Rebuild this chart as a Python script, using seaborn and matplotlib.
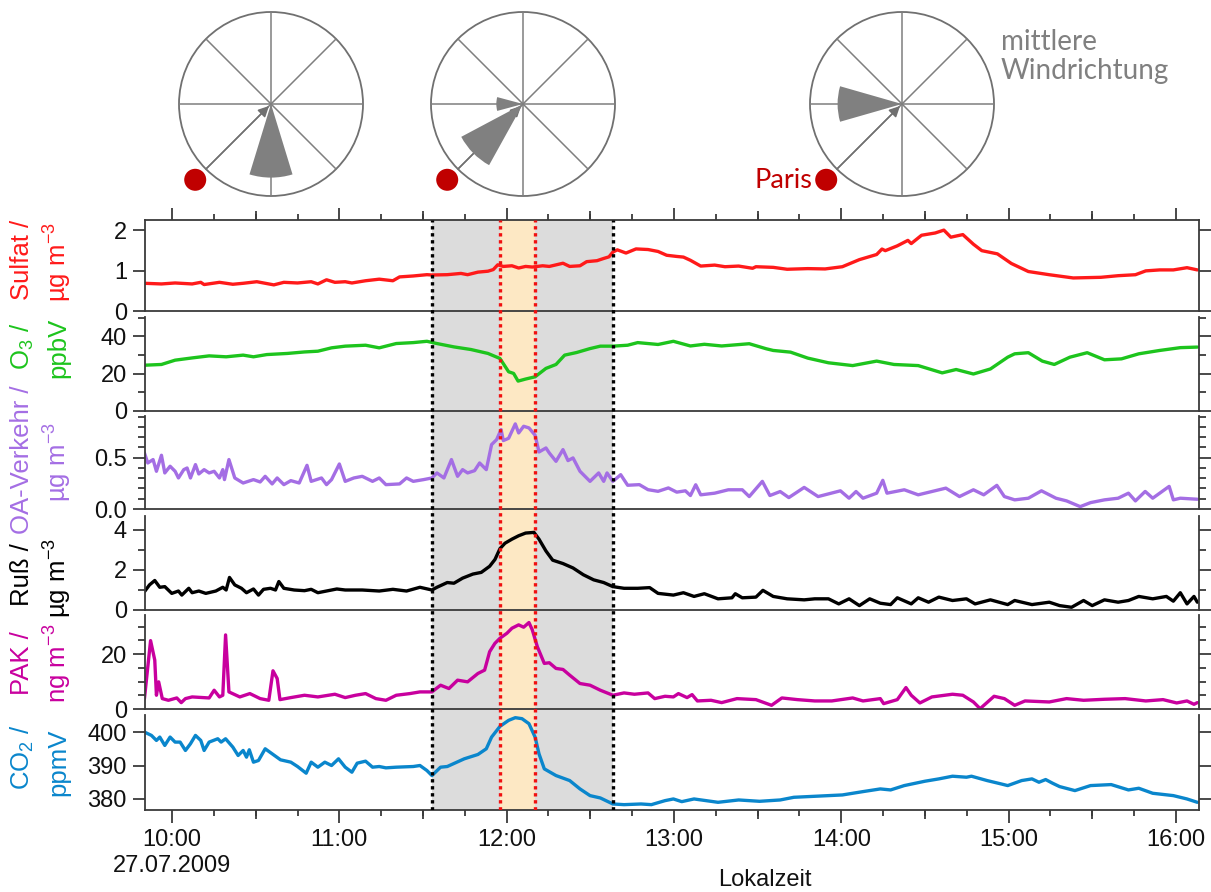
import numpy as np
import matplotlib
matplotlib.use("Agg")
import matplotlib.pyplot as plt
import seaborn as sns
from matplotlib.patches import Circle, Wedge
from matplotlib.ticker import FixedLocator, NullLocator

# ---------------- data (time in minutes after midnight, 27.07.2009) ----------------
sulfat_t = [590.1, 596.2, 601.1, 607.2, 610.3, 611.5, 617.0, 621.8, 625.5, 630.4, 636.5, 640.1, 645.0, 649.9,
            652.3, 655.4, 658.4, 662.1, 664.5, 669.4, 674.3, 679.2, 681.6, 686.5, 691.4, 693.2, 698.7, 703.6,
            706.0, 709.7, 713.3, 715.2, 716.8, 718.8, 721.9, 724.3, 726.8, 729.2, 732.9, 735.3, 740.2, 742.6,
            746.3, 748.7, 752.4, 754.8, 756.7, 758.1, 759.7, 762.8, 766.4, 770.7, 774.3, 777.4,
            781.0, 783.4, 785.9, 789.6, 794.6, 798.3, 803.2, 808.2, 809.4, 815.6, 820.6, 828.0, 834.2, 840.4,
            846.5, 852.7, 854.6, 855.8, 860.1, 863.9, 865.1, 868.8, 873.7, 876.8, 879.3, 883.6, 887.4, 890.4,
            896.0, 901.0, 907.1, 914.6, 923.2, 933.1, 939.3, 945.5, 949.2, 954.2, 959.1, 964.0, 967.7]
sulfat_v = [0.685, 0.669, 0.693, 0.669, 0.709, 0.654, 0.709, 0.661, 0.685, 0.724, 0.646, 0.709, 0.693, 0.724,
            0.669, 0.772, 0.709, 0.724, 0.693, 0.748, 0.787, 0.748, 0.843, 0.866, 0.898, 0.890, 0.898, 0.929,
            0.898, 0.961, 0.984, 1.024, 1.142, 1.102, 1.118, 1.063, 1.102, 1.087, 1.118, 1.102, 1.181, 1.102,
            1.118, 1.220, 1.244, 1.299, 1.339, 1.457, 1.512, 1.433, 1.535, 1.520, 1.472, 1.378,
            1.349, 1.333, 1.254, 1.111, 1.135, 1.095, 1.111, 1.056, 1.095, 1.079, 1.032, 1.048, 1.040, 1.095,
            1.270, 1.397, 1.532, 1.492, 1.611, 1.746, 1.667, 1.873, 1.929, 2.000, 1.825, 1.889, 1.651, 1.492,
            1.413, 1.175, 0.976, 0.897, 0.817, 0.833, 0.873, 0.897, 0.992, 1.016, 1.016, 1.071, 1.016]

o3_t = [590.1, 596.2, 601.1, 607.2, 613.3, 619.4, 625.5, 629.2, 634.0, 641.4, 647.5, 652.3, 657.2, 662.1,
        669.4, 674.3, 680.4, 686.5, 691.4, 695.0, 701.1, 707.2, 713.3, 717.6, 720.7, 722.5, 724.1, 726.8,
        730.2, 734.1, 737.7, 740.8, 745.1, 749.9, 753.6, 758.1, 763.4, 767.0, 774.3, 779.8,
        785.9, 790.9, 797.1, 807.0, 813.1, 815.6, 821.8, 828.0, 835.4, 844.1, 852.7, 858.9, 867.6, 876.2,
        881.2, 887.4, 893.5, 899.7, 902.2, 907.1, 912.1, 916.4, 922.0, 928.2, 934.4, 940.5, 946.7, 954.2,
        961.6, 967.7]
o3_v = [24.5, 24.9, 27.2, 28.4, 29.5, 29.0, 29.9, 29.0, 30.2, 30.8, 31.6, 32.0, 33.8, 34.7,
        35.2, 33.8, 36.1, 36.6, 37.3, 36.1, 34.3, 32.9, 30.8, 28.1, 21.0, 20.1, 16.0, 17.1,
        18.3, 22.8, 24.9, 29.9, 31.3, 33.4, 34.7, 34.7, 35.2, 36.6, 35.6, 37.3,
        34.8, 35.7, 34.8, 36.0, 33.3, 32.4, 31.5, 28.3, 25.8, 24.3, 26.7, 24.9, 24.3, 20.4,
        22.2, 19.8, 22.5, 28.8, 30.6, 31.2, 26.7, 24.9, 28.8, 31.2, 27.4, 27.9, 30.6, 32.4,
        33.9, 34.2]

oa_t = [590.1, 591.3, 593.2, 594.4, 596.2, 597.4, 599.3, 601.1, 602.3, 604.2, 605.4, 606.6, 608.4, 609.6,
        611.5, 613.3, 615.1, 617.0, 618.2, 618.8, 620.4, 622.5, 625.5, 629.2, 631.6, 633.4, 635.9, 637.7,
        640.1, 642.6, 645.6, 648.4, 649.9, 653.6, 655.4, 657.2, 660.0, 662.1, 665.2, 668.2, 671.9, 674.3,
        676.7, 681.6, 684.1, 686.5, 690.2, 693.2, 695.0, 697.5, 700.2, 702.4, 704.2, 706.0, 708.5, 710.3,
        712.7, 714.6, 716.4, 718.0, 718.8, 720.7, 723.1, 724.3, 726.1, 728.0, 730.2, 731.6, 734.1, 735.3,
        737.7, 740.2, 742.0, 743.8, 746.3, 749.9, 753.0, 754.8, 756.0, 758.1, 760.9, 763.4, 767.6, 770.7,
        774.3, 778.0,
        781.0, 784.1, 785.9, 787.8, 789.6, 794.6, 799.5, 804.5, 807.0, 811.7, 814.4, 818.1, 821.2, 826.7,
        831.7, 839.7, 842.8, 845.3, 847.8, 852.7, 854.9, 856.4, 862.6, 867.6, 872.5, 877.5, 882.4, 887.4,
        891.1, 895.8, 898.5, 902.2, 907.1, 911.8, 917.0, 920.8, 925.7, 929.4, 934.4, 939.3, 943.0, 945.5,
        949.0, 951.7, 954.2, 957.6, 959.1, 961.6, 967.7]
oa_v = [0.545, 0.448, 0.481, 0.367, 0.523, 0.351, 0.416, 0.367, 0.302, 0.383, 0.399, 0.302, 0.432, 0.341,
        0.383, 0.351, 0.367, 0.302, 0.383, 0.286, 0.481, 0.302, 0.253, 0.286, 0.263, 0.318, 0.244, 0.302,
        0.237, 0.276, 0.253, 0.425, 0.269, 0.302, 0.237, 0.286, 0.438, 0.269, 0.302, 0.318, 0.269, 0.302,
        0.237, 0.244, 0.302, 0.269, 0.286, 0.302, 0.351, 0.302, 0.481, 0.318, 0.383, 0.351, 0.373, 0.448,
        0.383, 0.627, 0.675, 0.773, 0.666, 0.688, 0.828, 0.740, 0.805, 0.789, 0.718, 0.555, 0.594, 0.545,
        0.464, 0.578, 0.471, 0.497, 0.367, 0.269, 0.351, 0.269, 0.351, 0.269, 0.334, 0.231, 0.237, 0.188,
        0.172, 0.205,
        0.164, 0.177, 0.131, 0.236, 0.138, 0.154, 0.187, 0.187, 0.121, 0.269, 0.131, 0.170, 0.111, 0.210,
        0.121, 0.177, 0.105, 0.170, 0.105, 0.154, 0.279, 0.154, 0.187, 0.138, 0.170, 0.203, 0.121, 0.187,
        0.138, 0.230, 0.121, 0.089, 0.105, 0.177, 0.105, 0.079, 0.023, 0.062, 0.089, 0.105, 0.154, 0.079,
        0.171, 0.105, 0.154, 0.220, 0.089, 0.105, 0.095]

russ_t = [590.1, 591.9, 593.8, 595.6, 597.4, 599.9, 602.3, 603.5, 606.0, 607.2, 609.6, 612.1, 615.7, 618.2,
          619.4, 620.6, 622.5, 624.9, 626.7, 629.2, 631.0, 632.8, 635.3, 637.1, 638.3, 640.1, 643.8, 647.5,
          649.9, 652.3, 656.0, 659.1, 662.1, 668.2, 674.3, 679.2, 684.1, 688.9, 693.2, 695.0, 698.7, 701.1,
          704.2, 707.9, 710.9, 713.9, 715.8, 717.6, 719.4, 721.9, 724.3, 726.8, 729.8, 731.6, 734.1, 736.5,
          740.2, 743.8, 747.5, 751.2, 754.8, 758.1, 762.1, 767.0, 771.3, 774.3, 779.8,
          783.4, 787.2, 790.9, 795.8, 800.8, 802.0, 804.5, 809.4, 811.9, 815.6, 820.6, 826.7, 830.5, 835.4,
          839.1, 842.8, 846.5, 850.2, 854.0, 857.7, 860.1, 865.1, 867.6, 871.3, 875.0, 879.9, 884.9, 888.0,
          893.5, 899.7, 902.2, 908.4, 914.6, 918.3, 922.6, 926.9, 930.0, 934.4, 939.3, 943.0, 946.7, 951.7,
          956.6, 959.1, 961.6, 964.0, 966.5, 967.7]
russ_v = [0.915, 1.254, 1.475, 1.136, 1.169, 0.831, 0.949, 0.746, 1.085, 0.864, 0.949, 0.831, 0.949, 1.136,
          1.000, 1.627, 1.254, 1.085, 0.864, 1.051, 0.746, 1.034, 1.085, 1.000, 1.424, 1.085, 1.000, 0.966,
          1.034, 0.864, 0.966, 1.051, 1.000, 1.000, 0.949, 1.034, 0.949, 1.136, 1.000, 1.136, 1.373, 1.339,
          1.593, 1.797, 1.881, 2.186, 2.525, 3.068, 3.339, 3.542, 3.712, 3.847, 3.881, 3.542, 2.949, 2.492,
          2.322, 2.102, 1.763, 1.508, 1.373, 1.169, 1.085, 1.085, 1.119, 0.831, 0.746,
          0.864, 0.678, 0.814, 0.559, 0.610, 0.814, 0.610, 0.644, 0.983, 0.678, 0.559, 0.508, 0.559, 0.559,
          0.305, 0.559, 0.220, 0.559, 0.339, 0.271, 0.610, 0.305, 0.610, 0.390, 0.644, 0.475, 0.559, 0.305,
          0.508, 0.271, 0.475, 0.271, 0.390, 0.220, 0.136, 0.475, 0.220, 0.508, 0.390, 0.475, 0.678, 0.559,
          0.678, 0.441, 0.864, 0.305, 0.678, 0.390]

pak_t = [590.1, 592.3, 593.8, 594.4, 595.2, 596.5, 598.7, 601.7, 603.3, 604.8, 607.2, 613.3, 615.1, 617.0,
         618.2, 619.2, 620.4, 624.3, 627.9, 631.6, 634.7, 636.2, 637.7, 638.7, 642.6, 647.5, 652.3, 658.4,
         662.1, 665.8, 669.4, 673.1, 676.7, 680.4, 685.3, 688.9, 693.2, 696.3, 699.3, 702.4, 706.0, 709.7,
         712.1, 713.9, 715.8, 717.6, 720.1, 721.9, 724.3, 726.1, 728.0, 729.2, 731.0, 733.5, 735.3, 737.7,
         740.2, 742.6, 746.3, 749.9, 753.6, 758.1, 762.1, 765.8, 770.7, 773.1, 776.8, 779.8,
         781.6, 784.7, 786.5, 788.4, 793.3, 797.1, 802.6, 809.4, 815.0, 818.7, 824.3, 830.5, 836.6, 844.1,
         847.8, 854.0, 855.2, 860.1, 863.2, 865.1, 868.2, 872.5, 879.9, 883.6, 887.4, 889.8, 894.8, 898.5,
         902.2, 905.9, 914.6, 920.8, 926.9, 934.4, 941.8, 949.2, 955.4, 960.3, 964.0, 966.5, 967.7]
pak_v = [3.78, 24.88, 17.80, 5.00, 9.88, 3.78, 3.17, 4.02, 2.32, 3.78, 4.39, 4.02, 6.83, 4.39,
         5.00, 26.95, 6.22, 4.39, 5.61, 3.78, 3.17, 13.90, 11.10, 3.41, 4.15, 5.00, 4.39, 5.37,
         4.15, 5.00, 5.61, 3.78, 3.17, 5.00, 5.61, 6.22, 6.22, 8.66, 7.44, 10.49, 9.88, 12.93,
         14.15, 20.85, 23.90, 25.73, 27.56, 29.39, 30.61, 29.76, 31.46, 28.78, 22.68, 16.59, 16.83, 14.76,
         14.39, 12.32, 9.27, 8.66, 6.83, 5.00, 5.85, 5.37, 5.85, 3.78, 4.63, 4.39,
         5.61, 4.15, 5.24, 2.93, 3.17, 2.32, 3.78, 3.41, 1.34, 4.02, 3.41, 2.93, 2.93, 4.02,
         2.93, 3.78, 1.95, 3.41, 7.80, 5.00, 2.20, 4.39, 5.37, 5.00, 2.56, 0.12, 4.63, 3.78,
         1.34, 2.93, 2.56, 3.78, 3.17, 3.54, 3.78, 2.93, 3.41, 2.20, 2.93, 1.71, 2.32]

co2_t = [590.1, 592.6, 594.4, 595.6, 597.4, 599.3, 601.1, 602.9, 604.8, 606.6, 608.4, 610.3, 611.5, 613.3,
         616.4, 617.6, 619.2, 621.8, 623.7, 625.5, 626.7, 627.7, 629.2, 631.0, 633.4, 635.9, 638.9, 642.6,
         645.0, 648.1, 649.9, 652.3, 654.8, 657.2, 659.7, 662.1, 664.5, 666.4, 669.4, 671.9, 674.3, 676.7,
         680.4, 686.5, 688.9, 691.4, 693.2, 696.3, 698.7, 704.8, 709.7, 712.7, 714.6, 717.6, 720.7, 723.1,
         725.5, 728.0, 730.2, 731.6, 733.5, 737.7, 742.6, 746.3, 749.9, 753.6, 758.1, 762.1, 768.2, 771.9,
         776.8, 779.8,
         782.8, 787.2, 795.8, 803.2, 810.7, 818.1, 823.0, 830.5, 840.4, 847.8, 854.0, 857.7, 862.6, 870.0,
         875.0, 879.9, 884.9, 886.7, 892.3, 897.3, 899.7, 904.7, 908.4, 910.9, 913.3, 915.8, 918.3, 923.8,
         929.4, 936.8, 943.0, 946.7, 951.7, 959.1, 964.0, 967.7]
co2_v = [400.0, 399.0, 397.5, 398.5, 396.0, 398.5, 397.0, 397.0, 394.5, 396.5, 399.0, 397.5, 394.5, 397.0,
         398.0, 397.0, 398.0, 395.5, 393.0, 394.5, 392.5, 394.7, 391.0, 391.5, 395.0, 393.5, 391.7, 391.0,
         389.7, 387.7, 391.0, 389.5, 391.0, 390.0, 392.0, 389.5, 388.0, 390.7, 391.3, 389.5, 389.7, 389.3,
         389.5, 389.7, 390.0, 388.5, 387.0, 389.5, 389.7, 392.0, 393.3, 395.0, 398.5, 401.7, 403.5, 404.3,
         404.0, 402.5, 398.5, 393.5, 389.0, 387.0, 385.5, 383.0, 381.0, 380.3, 378.5, 378.3, 378.5, 378.3,
         379.5, 380.0,
         379.2, 380.0, 379.0, 379.7, 379.3, 379.7, 380.5, 380.8, 381.2, 382.2, 383.0, 382.7, 384.0, 385.3,
         386.0, 386.8, 386.5, 386.8, 385.5, 384.5, 384.0, 385.5, 386.0, 385.0, 385.8, 384.7, 383.7, 382.5,
         384.0, 384.3, 382.7, 383.2, 381.7, 381.0, 380.0, 379.0]

# event windows (minutes): plume passage (grey) and peak (orange)
plume_window = (693.1, 758.2)
peak_window = (717.6, 730.2)

# hour tick labels
hour_ticks = [10, 11, 12, 13, 14, 15, 16]
hour_labels = ["10:00\n27.07.2009", "11:00", "12:00", "13:00", "14:00", "15:00", "16:00"]

# wind roses: sectors (start angle, end angle in deg, counter-clockwise from east; relative length)
rose_sectors = [
    [(253, 287, 0.80)],
    [(208, 241, 0.76), (165, 195, 0.29)],
    [(164, 196, 0.70)],
]
paris_direction = 225  # deg, direction of Paris seen from the site

# ---------------- style ----------------
sns.set_theme(style="ticks")
plt.rcParams["font.family"] = ["Liberation Sans", "DejaVu Sans"]
plt.rcParams["mathtext.fontset"] = "custom"
plt.rcParams["mathtext.rm"] = "Liberation Sans"
plt.rcParams["mathtext.it"] = "Liberation Sans:italic"
plt.rcParams["mathtext.bf"] = "Liberation Sans:bold"

W, H = 1211, 892
fig = plt.figure(figsize=(W / 100, H / 100), dpi=100)


def rect(left, top, right, bottom):
    return [left / W, 1 - bottom / H, (right - left) / W, (bottom - top) / H]


LEFT, RIGHT = 145, 1199
panel_px = [(220, 311), (317, 411), (416, 509), (516, 610), (615, 709), (715, 810)]
# vertical centres (px) of the two label lines of each panel
label_centres = [(260, 262), (346, 348), (460, 462), (575, 578), (663, 663), (757, 762)]
XLIM = (590.3 / 60, 968.3 / 60)
SPINE = "#3a3a3a"
TICKSIZE = 17
LABELSIZE = 18.5

panels = [
    dict(l1="Sulfat /", l2=r"µg m$^{-3}$", c="#FF1A1A", t=sulfat_t, v=sulfat_v, ylim=(0, 2.25),
         major=[0, 1, 2], minor=[], fmt="{:.0f}"),
    dict(l1=r"O$_3$ /", l2="ppbV", c="#1DC41D", t=o3_t, v=o3_v, ylim=(0, 50.3),
         major=[0, 20, 40], minor=[10, 30, 50], fmt="{:.0f}"),
    dict(l1="OA-Verkehr /", l2=r"µg m$^{-3}$", c="#A46EE4", t=oa_t, v=oa_v, ylim=(0, 0.905),
         major=[0.0, 0.5], minor=[0.1, 0.2, 0.3, 0.4, 0.6, 0.7, 0.8, 0.9], fmt="{:.1f}"),
    dict(l1="Ruß /", l2=r"µg m$^{-3}$", c="#000000", t=russ_t, v=russ_v, ylim=(0, 4.7),
         major=[0, 2, 4], minor=[1, 3], fmt="{:.0f}"),
    dict(l1="PAK /", l2=r"ng m$^{-3}$", c="#C8009E", t=pak_t, v=pak_v, ylim=(0, 34.2),
         major=[0, 20], minor=[5, 10, 15, 25, 30], fmt="{:.0f}"),
    dict(l1=r"CO$_2$ /", l2="ppmV", c="#0A86CC", t=co2_t, v=co2_v, ylim=(376.7, 405.1),
         major=[380, 390, 400], minor=[], fmt="{:.0f}"),
]

# background shading spanning all panels
bg = fig.add_axes(rect(LEFT, panel_px[0][0], RIGHT, panel_px[-1][1]), zorder=0)
bg.set_xlim(*XLIM)
bg.axvspan(plume_window[0] / 60, plume_window[1] / 60, color="#DCDCDC", lw=0)
bg.axvspan(peak_window[0] / 60, peak_window[1] / 60, color="#FDE8C4", lw=0)
bg.axis("off")

axes = []
for i, (p, (top, bot), (yc1, yc2)) in enumerate(zip(panels, panel_px, label_centres)):
    ax = fig.add_axes(rect(LEFT, top, RIGHT, bot), zorder=2)
    ax.patch.set_alpha(0)
    sns.lineplot(x=np.asarray(p["t"]) / 60, y=p["v"], ax=ax, color=p["c"], lw=2.4,
                 estimator=None, sort=False, legend=False)
    ax.set_xlim(*XLIM)
    ax.set_ylim(*p["ylim"])
    ax.yaxis.set_major_locator(FixedLocator(p["major"]))
    ax.set_yticklabels([p["fmt"].format(m) for m in p["major"]])
    if p["minor"]:
        ax.yaxis.set_minor_locator(FixedLocator(p["minor"]))
    else:
        ax.yaxis.set_minor_locator(NullLocator())
    ax.tick_params(axis="y", which="both", left=True, right=True, direction="out",
                   colors=SPINE, labelcolor="#111111", labelsize=TICKSIZE, width=1.3, pad=4)
    ax.tick_params(axis="y", which="major", length=9)
    ax.tick_params(axis="y", which="minor", length=5)
    for s in ["left", "right", "bottom", "top"]:
        ax.spines[s].set_color(SPINE)
        ax.spines[s].set_linewidth(1.3)
    ax.spines["top"].set_visible(i == 0)
    ax.set_xlabel("")
    ax.set_ylabel("")
    ax.grid(False)
    # x ticks
    ax.xaxis.set_major_locator(FixedLocator(hour_ticks))
    ax.xaxis.set_minor_locator(FixedLocator(list(np.arange(9.75, 16.26, 0.25))))
    if i == 0:
        ax.tick_params(axis="x", which="both", top=True, bottom=False, labeltop=False,
                       labelbottom=False, direction="out", colors=SPINE, width=1.3)
    elif i == len(panels) - 1:
        ax.set_xticklabels(hour_labels)
        ax.tick_params(axis="x", which="both", top=False, bottom=True, labelbottom=True,
                       direction="out", colors=SPINE, labelcolor="#111111", labelsize=TICKSIZE,
                       width=1.3, pad=5)
    else:
        ax.tick_params(axis="x", which="both", top=False, bottom=False, labelbottom=False)
    ax.tick_params(axis="x", which="major", length=9)
    ax.tick_params(axis="x", which="minor", length=4.5)
    # two-line rotated axis label
    fig.text(22 / W, 1 - yc1 / H, p["l1"], rotation=90, ha="center", va="center",
             color=p["c"], fontsize=LABELSIZE)
    fig.text(58 / W, 1 - yc2 / H, p["l2"], rotation=90, ha="center", va="center",
             color=p["c"], fontsize=LABELSIZE)
    axes.append(ax)

# half-hour ticks (medium length)
half_hours = [9.5 + k for k in range(1, 7)]
for ax, loc in [(axes[0], "top"), (axes[-1], "bottom")]:
    sec = ax.secondary_xaxis(loc)
    sec.xaxis.set_major_locator(FixedLocator(half_hours))
    sec.xaxis.set_minor_locator(NullLocator())
    sec.tick_params(axis="x", length=6.8, width=1.3, colors=SPINE, labelbottom=False, labeltop=False)
    sec.spines[loc].set_visible(False)

# dotted event lines on top of everything
fg = fig.add_axes(rect(LEFT, panel_px[0][0], RIGHT, panel_px[-1][1]), zorder=3)
fg.patch.set_alpha(0)
fg.set_xlim(*XLIM)
fg.set_ylim(0, 1)
for xv in plume_window:
    fg.axvline(xv / 60, color="#000000", lw=2.4, ls=(0, (1, 1.1)))
for xv in peak_window:
    fg.axvline(xv / 60, color="#F01010", lw=2.4, ls=(0, (1, 1.1)))
fg.axis("off")

fig.text(765 / W, 1 - 880 / H, "Lokalzeit", ha="center", va="center", fontsize=TICKSIZE, color="#111111")

# ---------------- wind roses ----------------
rose = fig.add_axes([0, 0, 1, 1], zorder=5)
rose.set_xlim(0, W)
rose.set_ylim(0, H)
rose.axis("off")
rose.patch.set_alpha(0)
R = 92
centers = [(271, H - 104), (523, H - 104), (902, H - 104)]
for (cx, cy), sectors in zip(centers, rose_sectors):
    rose.add_patch(Circle((cx, cy), R, facecolor="white", edgecolor="#707070", lw=1.3, zorder=1))
    for ang in (0, 45, 90, 135):
        u = np.array([np.cos(np.radians(ang)), np.sin(np.radians(ang))])
        rose.plot([cx - R * u[0], cx + R * u[0]], [cy - R * u[1], cy + R * u[1]],
                  color="#7f7f7f", lw=1.1, zorder=2)
    pd_rad = np.radians(paris_direction)
    rose.annotate("", xy=(cx, cy), xytext=(cx + R * np.cos(pd_rad), cy + R * np.sin(pd_rad)),
                  arrowprops=dict(arrowstyle="-|>", color="#707070", lw=1.1, mutation_scale=16,
                                  shrinkA=0, shrinkB=2), zorder=3)
    for a1, a2, rl in sectors:
        rose.add_patch(Wedge((cx, cy), rl * R, a1, a2, facecolor="#808080", edgecolor="none", zorder=4))
    rose.add_patch(Circle((cx + 1.165 * R * np.cos(pd_rad), cy + 1.165 * R * np.sin(pd_rad)), 11,
                          facecolor="#C00000", edgecolor="none", zorder=5))

rose.text(812, H - 180, "Paris", ha="right", va="center", color="#C00000", fontsize=19.5,
          family=["Lato", "DejaVu Sans"])
rose.text(1001, H - 29, "mittlere\nWindrichtung", ha="left", va="top", color="#808080",
          fontsize=20, family=["Lato", "DejaVu Sans"], linespacing=1.15)

fig.savefig("out.png", dpi=100)
